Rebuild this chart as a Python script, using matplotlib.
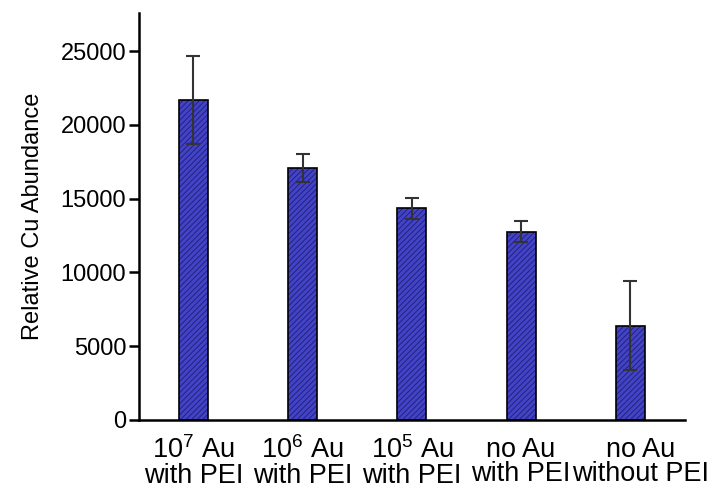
import numpy as np
import matplotlib
matplotlib.use("Agg")
import matplotlib.pyplot as plt
from matplotlib.transforms import ScaledTranslation

# ---------- data ----------
categories = ["10$^7$ Au\nwith PEI", "10$^6$ Au\nwith PEI", "10$^5$ Au\nwith PEI",
              "no Au\nwith PEI", "no Au\nwithout PEI"]
abundance = [21700, 17100, 14350, 12750, 6400]
errors = [3000, 950, 700, 700, 3000]
yticks = [0, 5000, 10000, 15000, 20000, 25000]

plt.rcParams.update({
    "font.family": ["Liberation Sans", "DejaVu Sans"],
    "font.size": 16,
    "mathtext.fontset": "custom",
    "mathtext.rm": "Liberation Sans",
    "mathtext.default": "regular",
    "hatch.linewidth": 0.7,
})

fig = plt.figure(figsize=(7.12, 4.90), dpi=100)
ax = fig.add_axes([0.195, 0.143, 0.767, 0.831])

x = np.arange(len(categories))
w = 0.265
ax.bar(x, abundance, w, color="#4343c8", hatch="//////",
       edgecolor="#23237a", linewidth=0, zorder=2)
ax.bar(x, abundance, w, fill=False, edgecolor="black", linewidth=1.2, zorder=3)
ax.errorbar(x, abundance, yerr=errors, fmt="none", ecolor="#333333",
            elinewidth=1.5, capsize=5, capthick=1.5, zorder=4)

ax.set_xlim(-0.5, 4.5)
ax.set_ylim(0, 27600)
ax.set_yticks(yticks)
ax.set_xticks(x)
ax.set_xticklabels(categories, fontsize=19.5, linespacing=0.92)
ax.tick_params(axis="x", length=0, pad=12)
ax.tick_params(axis="y", direction="out", length=7, width=1.8, labelsize=17, pad=2)
ax.set_ylabel("Relative Cu Abundance", fontsize=17, labelpad=12)

# last label sits a little to the right in the original
last = ax.get_xticklabels()[-1]
last.set_transform(last.get_transform() + ScaledTranslation(0.1, 0, fig.dpi_scale_trans))

for s in ("top", "right"):
    ax.spines[s].set_visible(False)
for s in ("left", "bottom"):
    ax.spines[s].set_linewidth(1.8)

fig.savefig("out.png", dpi=100)
